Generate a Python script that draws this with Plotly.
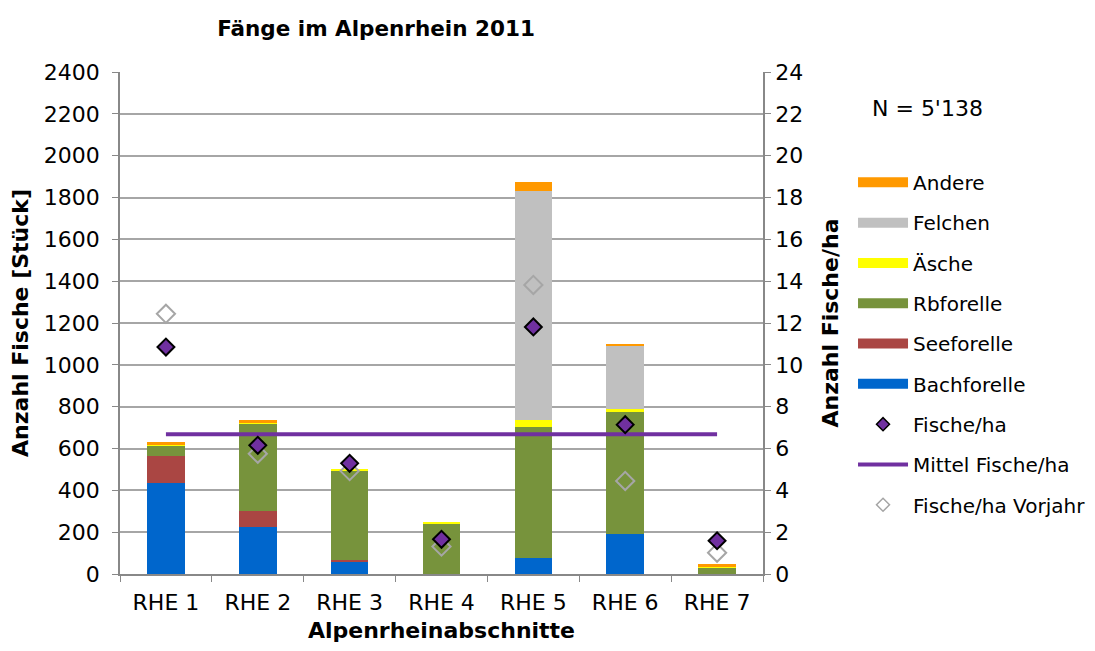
import plotly.graph_objects as go

categories = ["RHE 1", "RHE 2", "RHE 3", "RHE 4", "RHE 5", "RHE 6", "RHE 7"]
bachforelle = [435, 223, 62, 0, 78, 193, 0]
seeforelle = [130, 77, 5, 0, 0, 0, 0]
rbforelle = [48, 418, 429, 242, 627, 586, 30]
aesche = [6, 2, 6, 8, 30, 8, 3]
felchen = [0, 0, 0, 0, 1097, 305, 0]
andere = [10, 18, 0, 0, 42, 3, 17]
fische_ha = [10.85, 6.15, 5.29, 1.66, 11.81, 7.14, 1.59]
fische_ha_vorjahr = [12.44, 5.75, 4.92, 1.31, 13.82, 4.45, 1.02]
mittel_fische_ha = 6.68

FONT = "DejaVu Sans, Arial, sans-serif"
series = [
    ("Bachforelle", bachforelle, "#0066CC"),
    ("Seeforelle", seeforelle, "#AA4643"),
    ("Rbforelle", rbforelle, "#77933C"),
    ("Äsche", aesche, "#FFFF00"),
    ("Felchen", felchen, "#C0C0C0"),
    ("Andere", andere, "#FF9900"),
]

W, H = 1087, 643  # page body has an 8px margin
fig = go.Figure()
for name, vals, col in series:
    fig.add_trace(go.Bar(x=categories, y=vals, name=name, marker_color=col,
                         marker_line_width=0, width=0.41, showlegend=False,
                         yaxis="y"))

# legend entries (Excel-like thick bars)
for i, (name, vals, col) in enumerate(reversed(series)):
    fig.add_trace(go.Scatter(x=[None], y=[None], mode="lines", name=name,
                             line=dict(color=col, width=10),
                             legendgroup=f"g{i}", showlegend=True))

fig.add_trace(go.Scatter(x=categories, y=[mittel_fische_ha] * len(categories),
                         mode="lines", name="Mittel Fische/ha", yaxis="y2",
                         line=dict(color="#7030A0", width=4), showlegend=False))
fig.add_trace(go.Scatter(x=categories, y=fische_ha_vorjahr, mode="markers",
                         name="Fische/ha Vorjahr", yaxis="y2", showlegend=False,
                         marker=dict(symbol="diamond-open", size=14,
                                     color="#A6A6A6", line=dict(width=2))))
fig.add_trace(go.Scatter(x=categories, y=fische_ha, mode="markers",
                         name="Fische/ha", yaxis="y2", showlegend=False,
                         marker=dict(symbol="diamond", size=13, color="#7030A0",
                                     line=dict(color="black", width=2))))

# legend entries for markers/line
fig.add_trace(go.Scatter(x=[None], y=[None], mode="markers", name="Fische/ha",
                         marker=dict(symbol="diamond", size=10, color="#7030A0",
                                     line=dict(color="black", width=1.5)),
                         legendgroup="g6"))
fig.add_trace(go.Scatter(x=[None], y=[None], mode="lines", name="Mittel Fische/ha",
                         line=dict(color="#7030A0", width=4), legendgroup="g7"))
fig.add_trace(go.Scatter(x=[None], y=[None], mode="markers", name="Fische/ha Vorjahr",
                         marker=dict(symbol="diamond-open", size=10, color="#A6A6A6",
                                     line=dict(width=1.5)),
                         legendgroup="g8"))

fig.update_layout(
    width=W, height=H,
    barmode="stack",
    paper_bgcolor="white", plot_bgcolor="white",
    font=dict(family=FONT, size=22, color="black"),
    margin=dict(l=112, r=W - 112 - 643, t=64, b=H - 64 - 502, autoexpand=False),
    title=dict(text="<b>Fänge im Alpenrhein 2011</b>", x=(376 - 8) / W, xanchor="center",
               y=1 - (28 - 8) / H, yanchor="middle", font=dict(size=21.5)),
    xaxis=dict(type="category", tickson="boundaries", ticks="outside", ticklen=6,
               tickcolor="#888888", showline=True, linecolor="#888888", linewidth=1.5,
               showgrid=False, tickfont=dict(size=22), ticklabelstandoff=8,
               automargin=False,
               title=dict(text="<b>Alpenrheinabschnitte</b>", standoff=8,
                          font=dict(size=22))),
    yaxis=dict(range=[0, 2400], dtick=200, ticks="outside", ticklen=6,
               tickcolor="#888888", showline=True, linecolor="#888888", linewidth=1.5,
               gridcolor="#A6A6A6", gridwidth=1.5, tickfont=dict(size=22),
               ticklabelstandoff=8, zeroline=False, automargin=False,
               title=dict(text="<b>Anzahl Fische [Stück]</b>", standoff=10,
                          font=dict(size=22))),
    yaxis2=dict(range=[0, 24], dtick=2, overlaying="y", side="right",
                ticks="outside", ticklen=6, tickcolor="#888888", showline=True,
                linecolor="#888888", linewidth=1.5, showgrid=False, zeroline=False,
                tickfont=dict(size=22), automargin=False,
                title=dict(text="<b>Anzahl Fische/ha</b>", standoff=20,
                           font=dict(size=22))),
    legend=dict(x=1.14, xanchor="left", y=0.819, yanchor="top",
                traceorder="grouped", tracegroupgap=11.3, itemwidth=50,
                font=dict(size=20), bgcolor="rgba(0,0,0,0)"),
    annotations=[dict(text="N = 5'138", xref="paper", yref="paper",
                      x=1.166, y=0.928, xanchor="left", yanchor="middle",
                      showarrow=False, font=dict(size=22))],
)

fig.write_html("out.html")
